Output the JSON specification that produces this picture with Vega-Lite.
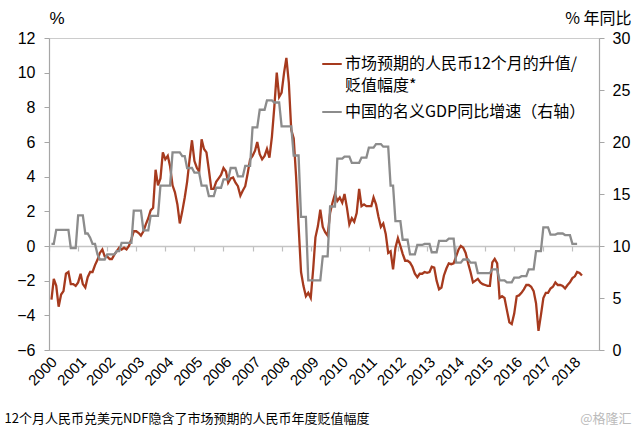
{
"$schema": "https://vega.github.io/schema/vega-lite/v6.json",
"width": 550, "height": 312,
"autosize": {"type": "none"},
"padding": {"left": 49, "top": 38, "right": 41, "bottom": 86},
"config": {"view": {"stroke": "#cccccc", "strokeWidth": 1}, "axis": {"labelFont": "Liberation Sans", "titleFont": "Noto Sans CJK SC", "grid": false}},
"data": {"values": [
{"month":"2000-02","ndf":-3.1,"gdp":10.2},{"month":"2000-03","ndf":-1.9,"gdp":10.2},{"month":"2000-04","ndf":-2.3,"gdp":11.55},{"month":"2000-05","ndf":-3.5,"gdp":11.55},{"month":"2000-06","ndf":-2.8,"gdp":11.55},{"month":"2000-07","ndf":-2.6,"gdp":11.55},{"month":"2000-08","ndf":-1.6,"gdp":11.55},{"month":"2000-09","ndf":-1.5,"gdp":11.55},{"month":"2000-10","ndf":-2.2,"gdp":9.8},{"month":"2000-11","ndf":-2.2,"gdp":9.8},{"month":"2000-12","ndf":-2.3,"gdp":9.8},
{"month":"2001-01","ndf":-2.1,"gdp":12.95},{"month":"2001-02","ndf":-1.6,"gdp":12.95},{"month":"2001-03","ndf":-2.2,"gdp":12.95},{"month":"2001-04","ndf":-2.4,"gdp":11.2},{"month":"2001-05","ndf":-1.8,"gdp":11.2},{"month":"2001-06","ndf":-1.5,"gdp":10.8},{"month":"2001-07","ndf":-1.5,"gdp":10.2},{"month":"2001-08","ndf":-1.1,"gdp":10.2},{"month":"2001-09","ndf":-0.8,"gdp":9.2},{"month":"2001-10","ndf":-0.4,"gdp":8.7},{"month":"2001-11","ndf":-0.2,"gdp":8.7},{"month":"2001-12","ndf":-0.6,"gdp":8.7},
{"month":"2002-01","ndf":-0.6,"gdp":9.2},{"month":"2002-02","ndf":-0.75,"gdp":9.2},{"month":"2002-03","ndf":-0.75,"gdp":9.2},{"month":"2002-04","ndf":-0.5,"gdp":9.2},{"month":"2002-05","ndf":-0.3,"gdp":9.5},{"month":"2002-06","ndf":-0.1,"gdp":9.5},{"month":"2002-07","ndf":-0.2,"gdp":10.3},{"month":"2002-08","ndf":-0.1,"gdp":10.3},{"month":"2002-09","ndf":-0.2,"gdp":10.3},{"month":"2002-10","ndf":0.0,"gdp":10.3},{"month":"2002-11","ndf":0.4,"gdp":10.3},{"month":"2002-12","ndf":0.85,"gdp":13.4},
{"month":"2003-01","ndf":0.85,"gdp":13.4},{"month":"2003-02","ndf":0.75,"gdp":13.4},{"month":"2003-03","ndf":0.6,"gdp":13.4},{"month":"2003-04","ndf":0.85,"gdp":11.5},{"month":"2003-05","ndf":1.25,"gdp":11.5},{"month":"2003-06","ndf":1.6,"gdp":11.5},{"month":"2003-07","ndf":2.05,"gdp":12.9},{"month":"2003-08","ndf":2.2,"gdp":12.9},{"month":"2003-09","ndf":4.4,"gdp":12.9},{"month":"2003-10","ndf":3.5,"gdp":12.9},{"month":"2003-11","ndf":3.9,"gdp":15.8},{"month":"2003-12","ndf":5.4,"gdp":15.8},
{"month":"2004-01","ndf":5.0,"gdp":15.8},{"month":"2004-02","ndf":5.2,"gdp":15.8},{"month":"2004-03","ndf":4.6,"gdp":15.8},{"month":"2004-04","ndf":3.5,"gdp":19.0},{"month":"2004-05","ndf":3.1,"gdp":19.0},{"month":"2004-06","ndf":2.4,"gdp":19.0},{"month":"2004-07","ndf":1.3,"gdp":19.0},{"month":"2004-08","ndf":2.0,"gdp":18.65},{"month":"2004-09","ndf":2.8,"gdp":18.65},{"month":"2004-10","ndf":3.7,"gdp":17.5},{"month":"2004-11","ndf":5.0,"gdp":17.5},{"month":"2004-12","ndf":6.1,"gdp":17.5},
{"month":"2005-01","ndf":4.9,"gdp":17.05},{"month":"2005-02","ndf":4.5,"gdp":17.05},{"month":"2005-03","ndf":4.3,"gdp":17.05},{"month":"2005-04","ndf":6.15,"gdp":15.8},{"month":"2005-05","ndf":5.6,"gdp":15.8},{"month":"2005-06","ndf":5.4,"gdp":15.8},{"month":"2005-07","ndf":4.4,"gdp":14.8},{"month":"2005-08","ndf":3.3,"gdp":14.8},{"month":"2005-09","ndf":3.3,"gdp":14.8},{"month":"2005-10","ndf":3.7,"gdp":15.6},{"month":"2005-11","ndf":3.9,"gdp":15.6},{"month":"2005-12","ndf":4.1,"gdp":15.6},
{"month":"2006-01","ndf":4.5,"gdp":16.4},{"month":"2006-02","ndf":4.3,"gdp":16.4},{"month":"2006-03","ndf":3.65,"gdp":16.4},{"month":"2006-04","ndf":3.9,"gdp":17.5},{"month":"2006-05","ndf":3.95,"gdp":17.5},{"month":"2006-06","ndf":3.65,"gdp":17.5},{"month":"2006-07","ndf":3.45,"gdp":16.7},{"month":"2006-08","ndf":2.9,"gdp":16.7},{"month":"2006-09","ndf":3.2,"gdp":16.7},{"month":"2006-10","ndf":3.45,"gdp":17.7},{"month":"2006-11","ndf":4.2,"gdp":17.7},{"month":"2006-12","ndf":5.0,"gdp":17.7},
{"month":"2007-01","ndf":5.2,"gdp":21.4},{"month":"2007-02","ndf":5.5,"gdp":21.4},{"month":"2007-03","ndf":6.0,"gdp":21.4},{"month":"2007-04","ndf":5.3,"gdp":23.1},{"month":"2007-05","ndf":5.0,"gdp":23.1},{"month":"2007-06","ndf":5.2,"gdp":23.1},{"month":"2007-07","ndf":5.6,"gdp":24.0},{"month":"2007-08","ndf":5.1,"gdp":24.0},{"month":"2007-09","ndf":6.3,"gdp":24.0},{"month":"2007-10","ndf":8.0,"gdp":23.8},{"month":"2007-11","ndf":10.0,"gdp":23.8},{"month":"2007-12","ndf":8.6,"gdp":23.8},
{"month":"2008-01","ndf":8.85,"gdp":21.5},{"month":"2008-02","ndf":10.0,"gdp":21.5},{"month":"2008-03","ndf":10.85,"gdp":21.5},{"month":"2008-04","ndf":9.4,"gdp":21.5},{"month":"2008-05","ndf":6.7,"gdp":21.5},{"month":"2008-06","ndf":6.2,"gdp":18.7},{"month":"2008-07","ndf":4.0,"gdp":18.7},{"month":"2008-08","ndf":1.2,"gdp":18.7},{"month":"2008-09","ndf":-1.5,"gdp":12.8},{"month":"2008-10","ndf":-2.3,"gdp":12.8},{"month":"2008-11","ndf":-2.9,"gdp":12.8},{"month":"2008-12","ndf":-2.7,"gdp":6.7},
{"month":"2009-01","ndf":-3.0,"gdp":6.7},{"month":"2009-02","ndf":-1.3,"gdp":6.7},{"month":"2009-03","ndf":0.5,"gdp":6.7},{"month":"2009-04","ndf":1.15,"gdp":6.7},{"month":"2009-05","ndf":2.1,"gdp":6.7},{"month":"2009-06","ndf":1.1,"gdp":9.0},{"month":"2009-07","ndf":0.8,"gdp":9.0},{"month":"2009-08","ndf":0.6,"gdp":9.0},{"month":"2009-09","ndf":1.9,"gdp":13.8},{"month":"2009-10","ndf":2.5,"gdp":13.8},{"month":"2009-11","ndf":3.0,"gdp":13.8},{"month":"2009-12","ndf":2.6,"gdp":18.4},
{"month":"2010-01","ndf":2.8,"gdp":18.4},{"month":"2010-02","ndf":2.5,"gdp":18.4},{"month":"2010-03","ndf":3.0,"gdp":18.6},{"month":"2010-04","ndf":2.2,"gdp":18.6},{"month":"2010-05","ndf":1.25,"gdp":18.6},{"month":"2010-06","ndf":1.6,"gdp":18.0},{"month":"2010-07","ndf":1.4,"gdp":18.0},{"month":"2010-08","ndf":1.9,"gdp":18.0},{"month":"2010-09","ndf":3.3,"gdp":18.0},{"month":"2010-10","ndf":2.3,"gdp":18.5},{"month":"2010-11","ndf":2.4,"gdp":18.5},{"month":"2010-12","ndf":2.3,"gdp":18.5},
{"month":"2011-01","ndf":2.3,"gdp":19.45},{"month":"2011-02","ndf":2.3,"gdp":19.45},{"month":"2011-03","ndf":2.8,"gdp":19.45},{"month":"2011-04","ndf":2.4,"gdp":19.8},{"month":"2011-05","ndf":1.7,"gdp":19.8},{"month":"2011-06","ndf":1.1,"gdp":19.8},{"month":"2011-07","ndf":1.3,"gdp":19.55},{"month":"2011-08","ndf":0.7,"gdp":19.55},{"month":"2011-09","ndf":-0.4,"gdp":19.55},{"month":"2011-10","ndf":-0.3,"gdp":15.8},{"month":"2011-11","ndf":-1.35,"gdp":15.8},{"month":"2011-12","ndf":-0.1,"gdp":12.4},
{"month":"2012-01","ndf":0.45,"gdp":12.4},{"month":"2012-02","ndf":0.0,"gdp":12.4},{"month":"2012-03","ndf":-0.45,"gdp":10.6},{"month":"2012-04","ndf":-0.85,"gdp":10.6},{"month":"2012-05","ndf":-0.85,"gdp":10.6},{"month":"2012-06","ndf":-0.96,"gdp":9.2},{"month":"2012-07","ndf":-1.2,"gdp":9.2},{"month":"2012-08","ndf":-1.6,"gdp":9.2},{"month":"2012-09","ndf":-1.8,"gdp":10.1},{"month":"2012-10","ndf":-1.6,"gdp":10.1},{"month":"2012-11","ndf":-1.6,"gdp":10.1},{"month":"2012-12","ndf":-1.5,"gdp":10.2},
{"month":"2013-01","ndf":-1.55,"gdp":10.2},{"month":"2013-02","ndf":-1.5,"gdp":10.2},{"month":"2013-03","ndf":-1.2,"gdp":9.4},{"month":"2013-04","ndf":-1.25,"gdp":9.4},{"month":"2013-05","ndf":-2.0,"gdp":9.4},{"month":"2013-06","ndf":-2.5,"gdp":10.5},{"month":"2013-07","ndf":-2.4,"gdp":10.5},{"month":"2013-08","ndf":-1.7,"gdp":10.5},{"month":"2013-09","ndf":-1.3,"gdp":10.5},{"month":"2013-10","ndf":-1.0,"gdp":10.7},{"month":"2013-11","ndf":-1.05,"gdp":10.7},{"month":"2013-12","ndf":-1.0,"gdp":10.7},
{"month":"2014-01","ndf":-0.6,"gdp":8.4},{"month":"2014-02","ndf":-0.2,"gdp":8.4},{"month":"2014-03","ndf":0.0,"gdp":8.4},{"month":"2014-04","ndf":-0.1,"gdp":8.7},{"month":"2014-05","ndf":-0.4,"gdp":8.7},{"month":"2014-06","ndf":-1.0,"gdp":8.7},{"month":"2014-07","ndf":-1.5,"gdp":8.4},{"month":"2014-08","ndf":-2.1,"gdp":8.4},{"month":"2014-09","ndf":-2.0,"gdp":8.4},{"month":"2014-10","ndf":-1.9,"gdp":7.4},{"month":"2014-11","ndf":-2.1,"gdp":7.4},{"month":"2014-12","ndf":-2.2,"gdp":7.4},
{"month":"2015-01","ndf":-2.25,"gdp":7.4},{"month":"2015-02","ndf":-2.3,"gdp":7.4},{"month":"2015-03","ndf":-2.3,"gdp":7.4},{"month":"2015-04","ndf":-0.95,"gdp":7.75},{"month":"2015-05","ndf":-0.75,"gdp":7.75},{"month":"2015-06","ndf":-1.0,"gdp":7.75},{"month":"2015-07","ndf":-3.0,"gdp":6.7},{"month":"2015-08","ndf":-2.9,"gdp":6.7},{"month":"2015-09","ndf":-3.0,"gdp":6.7},{"month":"2015-10","ndf":-3.7,"gdp":6.5},{"month":"2015-11","ndf":-4.4,"gdp":6.5},{"month":"2015-12","ndf":-4.5,"gdp":6.5},
{"month":"2016-01","ndf":-3.9,"gdp":6.95},{"month":"2016-02","ndf":-2.9,"gdp":6.95},{"month":"2016-03","ndf":-2.85,"gdp":6.95},{"month":"2016-04","ndf":-2.7,"gdp":7.1},{"month":"2016-05","ndf":-2.5,"gdp":7.1},{"month":"2016-06","ndf":-2.25,"gdp":7.1},{"month":"2016-07","ndf":-2.25,"gdp":7.75},{"month":"2016-08","ndf":-2.35,"gdp":7.75},{"month":"2016-09","ndf":-2.6,"gdp":7.75},{"month":"2016-10","ndf":-3.3,"gdp":9.5},{"month":"2016-11","ndf":-4.9,"gdp":9.5},{"month":"2016-12","ndf":-4.0,"gdp":9.5},
{"month":"2017-01","ndf":-3.0,"gdp":11.8},{"month":"2017-02","ndf":-2.7,"gdp":11.8},{"month":"2017-03","ndf":-2.7,"gdp":11.8},{"month":"2017-04","ndf":-2.45,"gdp":11.1},{"month":"2017-05","ndf":-2.35,"gdp":11.1},{"month":"2017-06","ndf":-2.1,"gdp":11.1},{"month":"2017-07","ndf":-2.25,"gdp":11.2},{"month":"2017-08","ndf":-2.25,"gdp":11.2},{"month":"2017-09","ndf":-2.3,"gdp":11.2},{"month":"2017-10","ndf":-2.45,"gdp":11.05},{"month":"2017-11","ndf":-2.25,"gdp":11.05},{"month":"2017-12","ndf":-2.1,"gdp":11.05},
{"month":"2018-01","ndf":-1.85,"gdp":10.2},{"month":"2018-02","ndf":-1.75,"gdp":10.2},{"month":"2018-03","ndf":-1.5,"gdp":10.2},{"month":"2018-04","ndf":-1.55,"gdp":null},{"month":"2018-05","ndf":-1.7,"gdp":null}
]},
"layer": [
{
"mark": {"type": "line", "strokeWidth": 2.3, "interpolate": "linear"},
"encoding": {
"x": {"field": "month", "type": "temporal",
"scale": {"type": "utc", "domain": [{"year": 2000, "month": 1, "date": 1, "utc": true}, {"year": 2018, "month": 12, "date": 1, "utc": true}]},
"axis": {"orient": "bottom", "tickCount": {"interval": "year", "step": 1}, "labelExpr": "utcFormat(datum.value, '%Y')", "labelAngle": -45, "labelAlign": "right", "labelBaseline": "top", "labelFontSize": 15, "labelColor": "#000000", "labelPadding": 4, "labelFlush": false, "labelOverlap": false, "labelBound": false, "ticks": false, "domain": true, "domainColor": "#bfbfbf", "domainWidth": 1.2,
"title": "12个月人民币兑美元NDF隐含了市场预期的人民币年度贬值幅度", "titleX": -45, "titleY": 68, "titleAlign": "left", "titleBaseline": "middle", "titleFontSize": 13, "titleFontWeight": "normal", "titleColor": "#000000"}},
"y": {"field": "ndf", "type": "quantitative", "scale": {"domain": [-6, 12], "nice": false, "zero": false},
"axis": {"orient": "left", "values": [-6, -4, -2, 0, 2, 4, 6, 8, 10, 12], "labelFontSize": 16, "labelColor": "#000000", "labelPadding": 9, "tickSize": 5, "tickColor": "#a6a6a6", "domainColor": "#a6a6a6", "domainWidth": 1.2,
"title": "%", "titleAngle": 0, "titleX": 0, "titleY": -20, "titleAlign": "left", "titleBaseline": "middle", "titleFontSize": 17, "titleFontWeight": "normal", "titleColor": "#000000", "titleFont": "Liberation Sans"}},
"color": {"datum": "市场预期的人民币12个月的升值/贬值幅度*", "type": "nominal",
"scale": {"domain": ["市场预期的人民币12个月的升值/贬值幅度*", "中国的名义GDP同比增速（右轴）"], "range": ["#A63A1E", "#8C8C8C"]},
"legend": {"orient": "none", "legendX": 272, "legendY": 15, "title": null, "symbolType": "stroke", "symbolStrokeWidth": 2, "symbolSize": 380, "labelFont": "Noto Sans CJK SC", "labelFontSize": 16, "labelColor": "#000000", "labelLimit": 0, "labelOffset": 2, "rowPadding": 7, "padding": 0,
"labelExpr": "datum.label == '市场预期的人民币12个月的升值/贬值幅度*' ? ['市场预期的人民币12个月的升值/', '贬值幅度*'] : datum.label",
"encode": {"labels": {"update": {"lineHeight": {"value": 22}}}}}}
}
},
{
"mark": {"type": "line", "strokeWidth": 2.3, "interpolate": "linear"},
"encoding": {
"x": {"field": "month", "type": "temporal",
"axis": {"orient": "bottom", "offset": -104, "zindex": 0, "tickCount": {"interval": "year", "step": 1}, "labels": false, "ticks": true, "tickSize": 5, "tickColor": "#bfbfbf", "tickWidth": 1.2, "domain": true, "domainColor": "#c4c4c4", "domainWidth": 1.5,
"title": "@格隆汇", "titleX": 582, "titleY": 172, "titleAlign": "right", "titleBaseline": "middle", "titleFontSize": 13, "titleFontWeight": "normal", "titleColor": "#bbbbbb"}},
"y": {"field": "gdp", "type": "quantitative", "scale": {"domain": [0, 30], "nice": false},
"axis": {"orient": "right", "values": [0, 5, 10, 15, 20, 25, 30], "labelFontSize": 16, "labelColor": "#000000", "labelPadding": 8, "tickSize": 5, "tickColor": "#a6a6a6", "domainColor": "#a6a6a6", "domainWidth": 1.2,
"title": "% 年同比", "titleAngle": 0, "titleX": 32, "titleY": -20, "titleAlign": "right", "titleBaseline": "middle", "titleFontSize": 16, "titleFontWeight": "normal", "titleColor": "#000000"}},
"color": {"datum": "中国的名义GDP同比增速（右轴）", "type": "nominal"}
}
}
],
"resolve": {"scale": {"y": "independent"}, "axis": {"y": "independent", "x": "independent"}}
}
